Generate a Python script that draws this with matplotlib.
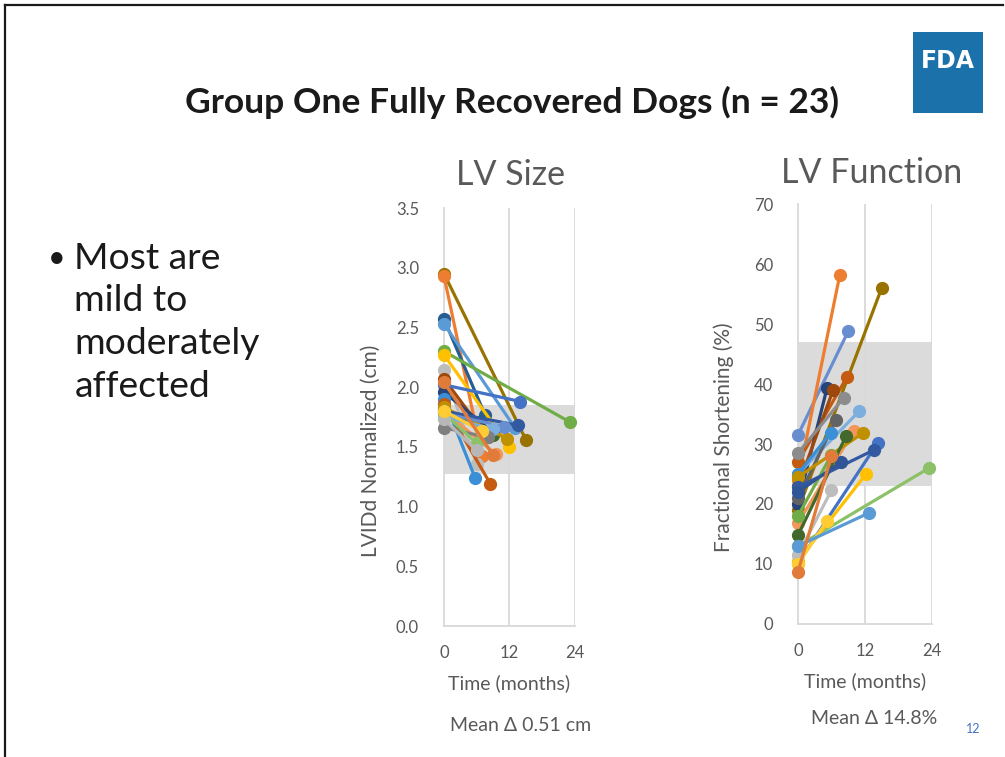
import matplotlib as mpl
mpl.use('Agg')
import matplotlib.pyplot as plt
from matplotlib.lines import Line2D
from matplotlib.patches import Rectangle

plt.rcParams['font.family'] = ['Lato', 'DejaVu Sans']

# LV size (cm): baseline at month 0, follow-up value at given month
size_start = [2.95, 2.93, 2.57, 2.53, 2.30, 2.27, 2.14, 2.07, 2.02, 1.96, 1.90, 1.86,
              1.82, 1.80, 1.83, 1.80, 1.78, 1.75, 1.66, 1.78, 1.73, 1.80, 2.04]
size_end = [1.56, 1.42, 1.77, 1.66, 1.71, 1.50, 1.36, 1.58, 1.88, 1.62, 1.24, 1.19,
            1.60, 1.44, 1.57, 1.68, 1.67, 1.65, 1.58, 1.53, 1.47, 1.63, 1.43]
size_month = [15, 7, 7.5, 13, 23, 12, 6, 8, 14, 9, 5.7, 8.5,
              9, 9.5, 11.5, 13.6, 11, 9, 8, 6, 6, 7, 9]

# LV function (% fractional shortening)
fs_start = [31.5, 24, 19, 27, 20, 23, 28.5, 25, 21, 25, 16.8, 24.5,
            14.8, 10.1, 22.8, 18, 22, 13, 10.5, 11.5, 10, 13, 8.7]
fs_end = [48.8, 58.2, 56, 41.2, 39.3, 39, 37.7, 35.5, 34, 31.9, 32.2, 31.8,
          31.3, 30.2, 29, 28.2, 27, 26, 25, 22.3, 17.2, 18.5, 28]
fs_month = [9, 7.5, 15, 8.8, 5.2, 6.3, 8.2, 11, 6.8, 5.9, 10, 11.6,
            8.6, 14.3, 13.6, 6, 7.7, 23.5, 12.2, 6, 5.2, 12.7, 6]

size_colors = ['#997300', '#ED7D31', '#255E91', '#5B9BD5', '#70AD47', '#FFC000', '#BDBDBD',
               '#9E480E', '#4472C4', '#264478', '#3A8FD6', '#C55A11', '#43682B', '#F1975A',
               '#BF9000', '#335AA1', '#698ED0', '#7CAFDD', '#7F7F7F', '#8CC168', '#B7B7B7',
               '#FFCD33', '#E07B39']
fs_colors = ['#698ED0', '#ED7D31', '#997300', '#C55A11', '#264478', '#9E480E', '#8C8C8C',
             '#7CAFDD', '#636363', '#3A8FD6', '#F1975A', '#BF9000', '#43682B', '#4472C4',
             '#335AA1', '#70AD47', '#2F5597', '#8CC168', '#FFC000', '#BDBDBD', '#FFCD33',
             '#5B9BD5', '#E07B39']

grid_c = '#D9D9D9'
txt_c = '#595959'

fig = plt.figure(figsize=(10.05, 7.57), dpi=100)

# slide frame
fig.add_artist(Line2D([0.005, 0.998], [0.993, 0.993], color='#1a1a1a', lw=1.6))
fig.add_artist(Line2D([0.005, 0.005], [0.0, 0.993], color='#1a1a1a', lw=1.6))

# FDA logo
fig.add_artist(Rectangle((0.9085, 0.851), 0.0700, 0.107, transform=fig.transFigure,
                         color='#1B72AA', lw=0))
fig.text(0.9435, 0.920, 'FDA', color='white', fontsize=17, fontweight='bold',
         ha='center', va='center', family=['DejaVu Sans'])

fig.text(0.509, 0.865, 'Group One Fully Recovered Dogs (n = 23)', fontsize=25.5,
         fontweight='bold', ha='center', va='center', color='#1a1a1a')

fig.text(0.048, 0.659, '\u2022', fontsize=22, va='center', color='#1a1a1a')
for i, line in enumerate(['Most are', 'mild to', 'moderately', 'affected']):
    fig.text(0.074, 0.659 - i * 0.0565, line, fontsize=26.8, va='center', color='#1a1a1a')


def panel(rect, start, end, month, colors, ylim, yticks, band, fmt, ylabel, ylab_pos, title,
          mean_txt, title_xy, mean_xy):
    ax = fig.add_axes(rect)
    ax.set_xlim(0, 24)
    ax.set_ylim(*ylim)
    ax.fill_between([0, 24], band[0], band[1], color='#DCDBDB', lw=0, zorder=0)
    for x in (12, 24):
        ax.axvline(x, color=grid_c, lw=1.3, zorder=0.5)
    for s, e, m, c in zip(start, end, month, colors):
        ax.plot([0, m], [s, e], color=c, lw=2.3, marker='o', ms=8.5, clip_on=False, zorder=3)
    for sp in ('top', 'right'):
        ax.spines[sp].set_visible(False)
    for sp in ('left', 'bottom'):
        ax.spines[sp].set_color(grid_c)
        ax.spines[sp].set_linewidth(1.3)
    ax.set_xticks([0, 12, 24])
    ax.set_yticks(yticks)
    ax.set_yticklabels([fmt.format(v) for v in yticks])
    ax.tick_params(length=0, labelsize=12, colors=txt_c)
    ax.tick_params(axis='x', pad=14)
    ax.tick_params(axis='y', pad=18)
    ax.set_xlabel('Time (months)', fontsize=14, color=txt_c, labelpad=9)
    ax.set_ylabel(ylabel, fontsize=15, color=txt_c)
    ax.yaxis.set_label_coords(ylab_pos[0], ylab_pos[1])
    fig.text(title_xy[0], title_xy[1], title, fontsize=24.5, color=txt_c, ha='center', va='center')
    fig.text(mean_xy[0], mean_xy[1], mean_txt, fontsize=14, color=txt_c, ha='center', va='center')
    return ax


panel([0.4418, 0.1730, 0.1303, 0.5522], size_start, size_end, size_month, size_colors,
      (0, 3.5), [0.0, 0.5, 1.0, 1.5, 2.0, 2.5, 3.0, 3.5], (1.27, 1.85), '{:.1f}',
      'LVIDd Normalized (cm)', (-0.48, 0.42), 'LV Size', 'Mean \u0394 0.51 cm',
      (0.508, 0.769), (0.518, 0.041))
panel([0.7940, 0.1757, 0.1333, 0.5548], fs_start, fs_end, fs_month, fs_colors,
      (0, 70), [0, 10, 20, 30, 40, 50, 60, 70], (23, 47), '{:d}',
      'Fractional Shortening (%)', (-0.48, 0.445), 'LV Function', 'Mean \u0394 14.8%',
      (0.867, 0.772), (0.870, 0.051))

fig.text(0.968, 0.037, '12', fontsize=9, color='#4472C4', ha='center', va='center')

fig.savefig('out.png', dpi=100)
